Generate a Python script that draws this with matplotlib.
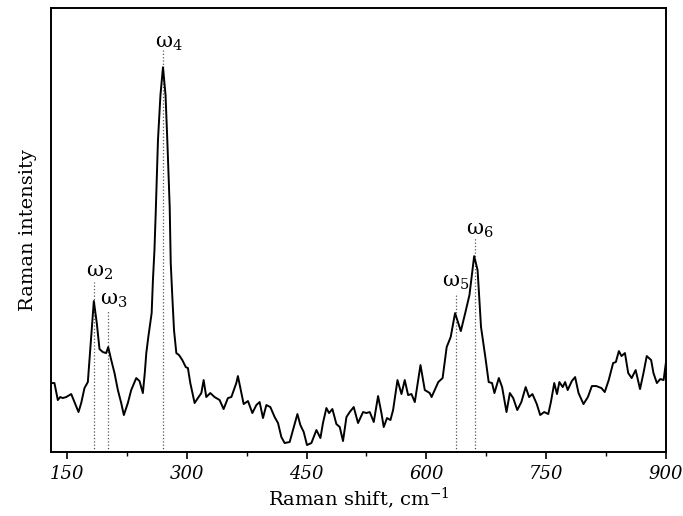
import matplotlib
matplotlib.use('Agg')
import matplotlib.pyplot as plt
from matplotlib.ticker import MultipleLocator

# Raman spectrum, wavenumber (cm^-1) vs intensity (arb. units)
shift = [130.2, 134.3, 138.5, 141.5, 144.7, 149.0, 155.3, 159.4, 164.4, 167.8,
         171.9, 176.1, 179.1, 183.6, 187.3, 190.7, 194.9, 199.1, 201.6, 205.4,
         209.5, 213.7, 217.9, 221.2, 226.2, 230.4, 236.7, 240.8, 245.0, 247.5,
         249.3, 251.8, 256.0, 257.6, 259.5, 261.0, 263.9, 267.0, 270.2, 273.4,
         275.6, 278.6, 279.9, 281.9, 284.0, 286.9, 290.3, 294.4, 298.7, 301.4,
         304.4, 309.8, 313.9,
         318.2, 321.1, 324.4, 329.4, 334.8, 341.1, 346.1, 351.5, 355.8, 362.0,
         364.0, 368.3, 371.2, 376.6, 382.1, 387.1, 391.2, 395.4, 399.6, 404.6,
         410.0, 414.2, 418.4, 422.5, 428.8, 433.0, 438.5, 442.2, 446.4, 450.5,
         456.0, 462.3, 467.3, 470.5, 474.8, 478.1, 482.3, 487.3, 491.5, 495.6,
         499.9, 504.0, 509.0, 514.4, 520.7, 524.9, 529.1, 534.1, 539.5, 543.7,
         546.6, 550.7, 555.0, 558.3, 563.8, 568.8, 572.9, 577.1, 581.3, 585.5,
         592.6, 598.0, 604.2, 606.5, 614.9, 620.3, 625.4, 630.4, 635.9, 643.1,
         648.6, 653.9, 659.8, 664.1, 668.4, 673.8, 678.0, 682.2, 685.2, 690.7,
         694.8, 700.3, 704.5, 708.7, 713.8, 718.9, 724.3, 728.6, 732.8, 738.2,
         742.5, 747.5, 752.6, 755.9, 760.1, 763.5, 766.5, 770.7, 773.7, 776.9,
         782.1, 786.2, 790.5, 796.7, 802.2, 807.2, 812.8, 819.1, 823.3, 828.3,
         833.8, 837.2, 841.0, 844.3, 848.6, 852.7, 857.0, 862.0, 867.5, 871.8,
         875.9, 881.4, 884.3, 888.6, 892.8, 897.0, 900.0]
intensity = [69, 69, 52, 55, 54, 55, 58, 50, 40, 49,
             64, 70, 102, 151, 129, 103, 100, 99, 105, 92,
             79, 62, 49, 37, 49, 62, 74, 71, 59, 80,
             99, 115, 139, 172, 202, 237, 312, 357, 385, 357,
             312, 245, 189, 155, 122, 99, 97, 92, 85, 84,
             69, 49, 54,
             59, 72, 55, 59, 55, 52, 43, 54, 55, 69,
             76, 59, 48, 51, 39, 47, 50, 34, 47, 45,
             35, 29, 15, 9, 10, 22, 38, 27, 20, 7,
             9, 22, 14, 29, 44, 39, 43, 28, 25, 11,
             35, 40, 45, 29, 40, 39, 40, 30, 56, 39,
             25, 34, 32, 42, 72, 58, 72, 57, 58, 50,
             87, 62, 59, 55, 70, 74, 105, 115, 139, 121,
             139, 157, 196, 182, 125, 95, 70, 69, 59, 74,
             65, 40, 59, 54, 42, 50, 65, 55, 58, 48,
             37, 40, 38, 50, 69, 58, 70, 65, 70, 62,
             71, 75, 59, 48, 55, 66, 66, 64, 60, 72,
             89, 90, 101, 96, 99, 79, 74, 82, 63, 79,
             96, 92, 79, 69, 73, 72, 90]

# mode positions, label baseline and top of the guide line
modes = ['2', '3', '4', '5', '6']
mode_shift = [183.6, 201.3, 270.2, 636.5, 660.5]
label_y = [175, 147, 405, 165, 217]
line_top = [170, 142, 402, 157, 214]
label_dx = [-5.5, -6.0, -6.0, -9.5, -6.0]

x_ticks = [150, 300, 450, 600, 750, 900]

plt.rcParams['font.family'] = ['DejaVu Serif']
plt.rcParams['mathtext.fontset'] = 'dejavuserif'

fig = plt.figure(figsize=(6.83, 5.16), dpi=100)
ax = fig.add_axes([0.0747, 0.124, 0.9004, 0.860])

for xm, yt in zip(mode_shift, line_top):
    ax.plot([xm, xm], [0, yt], ls=':', lw=0.9, color='#555555', zorder=1)

ax.plot(shift, intensity, color='black', lw=1.4, zorder=2)

for m, xm, yl, dx in zip(modes, mode_shift, label_y, label_dx):
    ax.annotate(r'$\mathregular{\omega_{%s}}$' % m, xy=(xm, yl), xytext=(dx, 0),
                textcoords='offset points', ha='left', va='baseline', fontsize=15)

ax.set_xlim(130, 900)
ax.set_ylim(0, 444)
ax.set_xticks(x_ticks)
ax.set_xticklabels([str(t) for t in x_ticks], fontstyle='italic', fontsize=13)
ax.xaxis.set_minor_locator(MultipleLocator(75))
ax.tick_params(axis='x', which='major', direction='out', length=5, width=1.2,
               top=False, pad=4)
ax.tick_params(axis='x', which='minor', direction='out', length=3, width=1.0, top=False)
ax.set_yticks([])
for sp in ax.spines.values():
    sp.set_linewidth(1.4)

ax.set_xlabel('Raman shift, cm$^{-1}$', fontsize=14, labelpad=2)
ax.set_ylabel('Raman intensity', fontsize=14, labelpad=10)

fig.savefig('out.png', dpi=100)
